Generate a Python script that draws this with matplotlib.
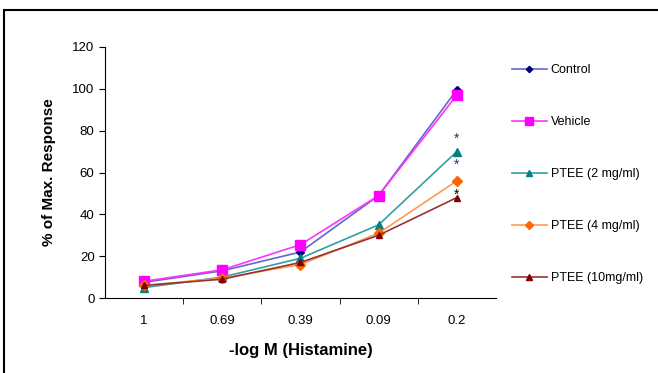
import numpy as np
import matplotlib.pyplot as plt
from matplotlib.patches import Rectangle

plt.rcParams['font.family'] = ['Liberation Sans', 'DejaVu Sans']

# data
doses = ['1', '0.69', '0.39', '0.09', '0.2']
control = [7.5, 13, 22, 49, 99.5]
vehicle = [8, 13.5, 25.5, 49, 97]
ptee_2 = [5, 10, 19, 35, 70]
ptee_4 = [6, 9.5, 16, 31, 56]
ptee_10 = [6, 9, 17, 30, 48]

star_y = [76, 63.5, 49.5]
star_colors = ['#333366', '#333366', 'black']

series = [
    ('Control', control, '#6666cc', '#000080', 'D', 4),
    ('Vehicle', vehicle, '#ff33ff', '#ff00ff', 's', 7),
    ('PTEE (2 mg/ml)', ptee_2, '#33a0a0', '#008080', '^', 6),
    ('PTEE (4 mg/ml)', ptee_4, '#ff9955', '#ff6600', 'D', 5),
    ('PTEE (10mg/ml)', ptee_10, '#993333', '#800000', '^', 5),
]

fig = plt.figure(figsize=(6.58, 3.73), dpi=100)
ax = fig.add_axes([0.1596, 0.201, 0.594, 0.673])

x = np.arange(len(doses))
handles = []
for label, vals, lc, mc, mk, ms in series:
    h, = ax.plot(x, vals, color=lc, lw=1.2, marker=mk, markersize=ms,
                 markerfacecolor=mc, markeredgecolor=mc, label=label)
    handles.append(h)

for y, c in zip(star_y, star_colors):
    ax.text(x[-1], y, '*', ha='center', va='center', fontsize=10, color=c)

ax.set_xlim(-0.5, 4.5)
ax.set_ylim(0, 120)
ax.set_yticks(range(0, 121, 20))
ax.set_xticks(x)
ax.set_xticklabels(doses)
ax.set_xticks(np.arange(0.5, 4.5, 1), minor=True)
ax.tick_params(axis='x', which='major', length=0, pad=12, labelsize=9.5)
ax.tick_params(axis='x', which='minor', length=4, direction='out')
ax.tick_params(axis='y', length=4, direction='out', labelsize=9.5)
ax.spines['top'].set_visible(False)
ax.spines['right'].set_visible(False)

ax.set_xlabel('-log M (Histamine)', fontsize=12, fontweight='bold', labelpad=12)
ax.set_ylabel('% of Max. Response', fontsize=11, fontweight='bold', labelpad=12)

fig.legend(handles=handles, loc='upper left', bbox_to_anchor=(0.761, 0.858),
           frameon=False, fontsize=9, handlelength=2.8, handletextpad=0.3,
           labelspacing=3.2, markerscale=0.8)

# outer frame like the pasted figure border
fig.patches.append(Rectangle((4 / 658, -0.1), 1.2, 1 - 10 / 373 + 0.1,
                             transform=fig.transFigure, fill=False,
                             edgecolor='black', lw=1.5))

fig.savefig('out.png', dpi=100)
